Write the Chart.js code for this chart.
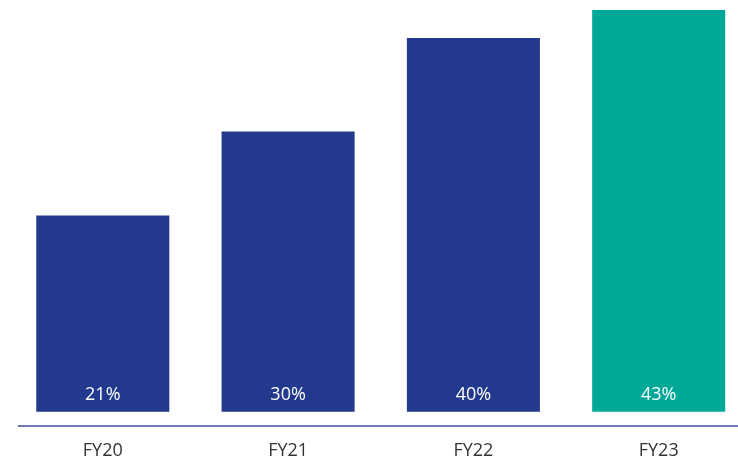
<!DOCTYPE html>
<html>
<head>
<meta charset="utf-8">
<script src="https://cdn.jsdelivr.net/npm/chart.js@4/dist/chart.umd.min.js"></script>
<style>
  html, body { margin: 0; padding: 0; background: #ffffff; }
  #wrap { width: 738px; height: 458px; position: relative; }
</style>
</head>
<body>
<div id="wrap"><canvas id="c" width="738" height="458"></canvas></div>
<script>
const categories = ['FY20', 'FY21', 'FY22', 'FY23'];
const values = [21, 30, 40, 43];
const valueLabels = ['21%', '30%', '40%', '43%'];
const barColors = ['#22398d', '#22398d', '#22398d', '#00a898'];

const FONT = '"Open Sans", "Noto Sans", sans-serif';

const insideLabels = {
  id: 'insideLabels',
  afterDatasetsDraw(chart) {
    const ctx = chart.ctx;
    const meta = chart.getDatasetMeta(0);
    ctx.save();
    ctx.font = '18px ' + FONT;
    ctx.fillStyle = '#ffffff';
    ctx.textAlign = 'center';
    ctx.textBaseline = 'middle';
    meta.data.forEach((bar, i) => {
      ctx.fillText(valueLabels[i], bar.x, bar.base - 17);
    });
    ctx.restore();
  }
};

const baseLine = {
  id: 'baseLine',
  afterDraw(chart) {
    const ctx = chart.ctx;
    const y = chart.chartArea.bottom;
    ctx.save();
    ctx.strokeStyle = '#6e7ab7';
    ctx.lineWidth = 2;
    ctx.beginPath();
    ctx.moveTo(18, y);
    ctx.lineTo(chart.width, y);
    ctx.stroke();
    ctx.restore();
  }
};

new Chart(document.getElementById('c'), {
  type: 'bar',
  data: {
    labels: categories,
    datasets: [{
      data: values,
      backgroundColor: barColors,
      borderWidth: 0,
      barPercentage: 1,
      categoryPercentage: 0.718,
      clip: false
    }]
  },
  options: {
    responsive: false,
    animation: false,
    devicePixelRatio: 1,
    layout: { padding: { left: 102.8, right: 79.3, top: 0, bottom: 0 } },
    plugins: { legend: { display: false }, tooltip: { enabled: false } },
    scales: {
      x: {
        offset: false,
        grid: { display: false, drawTicks: false },
        border: { display: false },
        ticks: {
          color: '#333333',
          font: { family: FONT, size: 18 },
          padding: 14.5,
          maxRotation: 0,
          autoSkip: false
        },
        afterFit(scale) { scale.height = 32; }
      },
      y: {
        display: false,
        min: -1.531,
        max: 44.07
      }
    }
  },
  plugins: [insideLabels, baseLine]
});
</script>
</body>
</html>
